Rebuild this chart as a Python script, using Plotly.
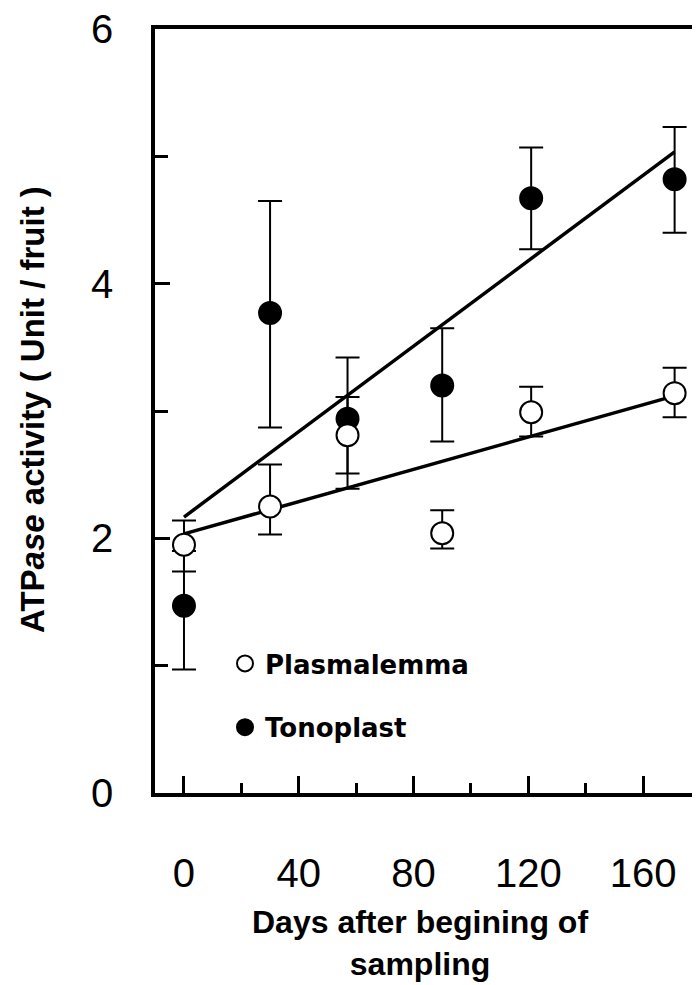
import numpy as np
import plotly.graph_objects as go

# ---- data ----
days = [0, 30, 57, 90, 121, 171]

plasma_mean = [1.95, 2.25, 2.81, 2.04, 2.99, 3.14]
plasma_err_up = [0.19, 0.33, 0.30, 0.18, 0.20, 0.20]
plasma_err_dn = [0.21, 0.22, 0.30, 0.12, 0.19, 0.19]

tono_mean = [1.47, 3.77, 2.94, 3.20, 4.67, 4.82]
tono_err_up = [0.43, 0.88, 0.48, 0.45, 0.40, 0.41]
tono_err_dn = [0.50, 0.90, 0.55, 0.44, 0.40, 0.42]

x_tick_vals = [0, 40, 80, 120, 160]
x_tick_text = ["0", "40", "80", "120", "160"]
y_tick_vals = [0, 2, 4, 6]
y_tick_text = ["0", "2", "4", "6"]

# ---- regression lines (fit from data) ----
def fit_line(x, y):
    k, b = np.polyfit(x, y, 1)
    xs = np.array([min(x), max(x)], dtype=float)
    return xs, k * xs + b

px_, py_ = fit_line(days, plasma_mean)
tx_, ty_ = fit_line(days, tono_mean)

fig = go.Figure()

line_style = dict(color="black", width=3.5)
fig.add_trace(go.Scatter(x=tx_, y=ty_, mode="lines", line=line_style,
                         showlegend=False, hoverinfo="skip"))
fig.add_trace(go.Scatter(x=px_, y=py_, mode="lines", line=line_style,
                         showlegend=False, hoverinfo="skip"))

err_common = dict(type="data", symmetric=False, color="black",
                  thickness=2, width=12)

fig.add_trace(go.Scatter(
    x=days, y=tono_mean, mode="markers", name="Tonoplast",
    marker=dict(symbol="circle", size=22, color="black",
                line=dict(color="black", width=2)),
    error_y=dict(array=tono_err_up, arrayminus=tono_err_dn, **err_common),
    legendgroup="b", legendrank=2,
))
fig.add_trace(go.Scatter(
    x=days, y=plasma_mean, mode="markers", name="Plasmalemma",
    marker=dict(symbol="circle", size=22, color="white",
                line=dict(color="black", width=2)),
    error_y=dict(array=plasma_err_up, arrayminus=plasma_err_dn, **err_common),
    legendgroup="a", legendrank=1,
))

# page body has an 8px margin; place everything in page pixels minus 8
OFF = 8
W, H = 700, 985
plot_l, plot_r, plot_t, plot_b = 155 - OFF, 697 - OFF, 29 - OFF, 793 - OFF
L, R, T, B = plot_l, W - plot_r, plot_t, H - plot_b
PW, PH = plot_r - plot_l, plot_b - plot_t


def px_x(p):
    return (p - OFF - plot_l) / PW


def px_y(p):
    return (plot_b - (p - OFF)) / PH


fig.update_layout(
    width=W, height=H,
    margin=dict(l=L, r=R, t=T, b=B, autoexpand=False),
    paper_bgcolor="white", plot_bgcolor="white",
    font=dict(family="Liberation Sans, Arial", color="black"),
    showlegend=True,
    legend=dict(
        x=px_x(245 - 20), xanchor="left",
        y=px_y(640), yanchor="top",
        bgcolor="rgba(0,0,0,0)",
        font=dict(family="DejaVu Sans", size=26, color="black", weight="bold"),
        traceorder="grouped", tracegroupgap=27,
        itemsizing="trace",
    ),
    xaxis=dict(
        range=[-10.1, 178.8], showgrid=False, zeroline=False,
        showline=True, linecolor="black", linewidth=3.5, mirror=True,
        ticks="inside", ticklen=17, tickwidth=3, tickcolor="black",
        tickvals=x_tick_vals, ticktext=x_tick_text,
        tickfont=dict(size=40, family="Liberation Sans, Arial"),
        ticklabelstandoff=42,
        minor=dict(tickvals=[20, 60, 100, 140], ticks="inside",
                   ticklen=10, tickwidth=3, tickcolor="black"),
    ),
    yaxis=dict(
        range=[0, 6], showgrid=False, zeroline=False,
        showline=True, linecolor="black", linewidth=3.5, mirror=True,
        ticks="inside", ticklen=15, tickwidth=3, tickcolor="black",
        tickvals=y_tick_vals, ticktext=y_tick_text,
        tickfont=dict(size=40, family="Liberation Sans, Arial"),
        ticklabelstandoff=30, ticklabeloverflow="allow",
        minor=dict(tickvals=[1, 3, 5], ticks="inside",
                   ticklen=13, tickwidth=3, tickcolor="black"),
    ),
    annotations=[
        dict(text="<b>ATP<i>ase</i> activity ( Unit / fruit )</b>",
             xref="paper", yref="paper",
             x=px_x(33), y=px_y(410),
             xanchor="center", yanchor="middle", textangle=-90,
             showarrow=False,
             font=dict(size=33, family="Liberation Sans, Arial", color="black")),
        dict(text="<b>Days after begining of<br>sampling</b>",
             xref="paper", yref="paper",
             x=px_x(420), y=px_y(943),
             xanchor="center", yanchor="middle",
             showarrow=False,
             font=dict(size=32, family="Liberation Sans, Arial", color="black")),
    ],
)

fig.write_html("out.html")
